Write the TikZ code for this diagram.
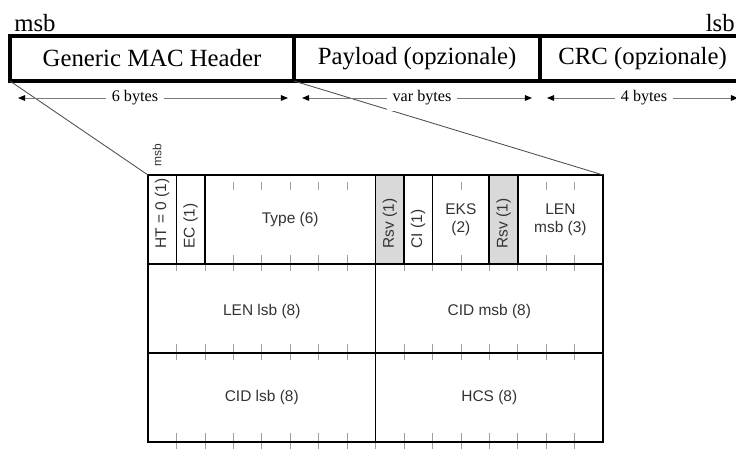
\documentclass[tikz,border=0pt]{standalone}
\usepackage{fontspec}
\setmainfont{Liberation Serif}
\setsansfont{Liberation Sans}
\usepackage{xcolor}
\usepackage{tikz}
\usetikzlibrary{positioning, arrows.meta}
\definecolor{frgray}{HTML}{7A7A7A}
\definecolor{frtext}{HTML}{333333}
\definecolor{frrsv}{HTML}{D9D9D9}
\definecolor{frtick}{HTML}{A0A0A0}

\begin{document}
\begin{tikzpicture}[
  x=0.025cm, y=-0.025cm,
  topfield/.style={
    rectangle, draw=black, line width=2.5pt, inner sep=0pt, outer sep=0pt,
    minimum height=1.125cm, font=\fontsize{17.6}{20}\selectfont
  },
  endlbl/.style={font=\fontsize{17.6}{20}\selectfont, inner sep=0pt},
  dimlbl/.style={font=\fontsize{11.5}{14}\selectfont, fill=white, inner sep=4pt},
  dimarr/.style={-{Triangle[length=5pt, width=4pt, color=black]}, color=frgray, line width=0.7pt},
  zoomline/.style={draw=black!70, line width=0.6pt},
  field/.style={draw=black, line width=1.3pt},
  bittick/.style={draw=frtick, line width=0.5pt},
  bitlbl/.style={font=\sffamily\fontsize{11}{13}\selectfont, text=frtext, align=center},
]
\useasboundingbox (0,0) rectangle (736,450);

% Trama MAC
\node[topfield, minimum width=7.1cm] (hdr) at (152,58.5) {Generic MAC Header};
\node[topfield, minimum width=6.15cm, right=0pt of hdr] (pay) {Payload (opzionale)};
\node[topfield, minimum width=5.125cm, right=0pt of pay] (crc) {CRC (opzionale)};
\node[endlbl, anchor=base west] (msbtop) at (14,31) {msb};
\node[endlbl, anchor=base east] (lsbtop) at (735,31) {lsb};

% Dettaglio dell'header
\begin{scope}[shift={(148,175)}, x=0.7109cm, y=-2.225cm]
  \coordinate (boxnw) at (0,0);
  \coordinate (boxne) at (16,0);
  % campi riservati
  \fill[frrsv] (8,0) rectangle (9,1) (12,0) rectangle (13,1);
  % tacche dei bit
  \foreach \b in {1,...,15} {
    \draw[bittick] (\b,0.08) -- (\b,0.17);
    \foreach \r in {1,2,3}
      \draw[bittick] (\b,\r-0.1) -- (\b,\r+0.08);
  }
  \draw[field] (0,0) rectangle (16,3);
  \draw[field] (0,1) -- (16,1) (0,2) -- (16,2) (8,1) -- (8,3);
  \foreach \b in {1,2,8,9,10,12,13}
    \draw[field] (\b,0) -- (\b,1);
  \node[bitlbl, rotate=90, anchor=west] (fht) at (0.5,0.88) {HT = 0 (1)};
  \node[bitlbl, rotate=90, anchor=west] (fec) at (1.5,0.88) {EC (1)};
  \node[bitlbl] (ftype) at (5,0.5) {Type (6)};
  \node[bitlbl, rotate=90, anchor=west] (frsva) at (8.5,0.88) {Rsv (1)};
  \node[bitlbl, rotate=90, anchor=west] (fci) at (9.5,0.88) {CI (1)};
  \node[bitlbl] (feks) at (11,0.5) {EKS\\(2)};
  \node[bitlbl, rotate=90, anchor=west] (frsvb) at (12.5,0.88) {Rsv (1)};
  \node[bitlbl] (flenm) at (14.5,0.5) {LEN\\msb (3)};
  \node[bitlbl] (flenl) at (4,1.53) {LEN lsb (8)};
  \node[bitlbl] (fcidm) at (12,1.53) {CID msb (8)};
  \node[bitlbl] (fcidl) at (4,2.5) {CID lsb (8)};
  \node[bitlbl] (fhcs) at (12,2.5) {HCS (8)};
\end{scope}
\node[font=\sffamily\fontsize{8.5}{10}\selectfont, text=frtext, rotate=90, anchor=west] (msbbit) at (157,171) {msb};

% Linee di ingrandimento
\draw[zoomline] (hdr.south west) -- (boxnw);
\draw[zoomline] (hdr.south east) -- (boxne);

% Lunghezze
\node[dimlbl] (d6) at (135,98) {6 bytes};
\node[dimlbl] (dvar) at (422,98) {var bytes};
\node[dimlbl] (d4) at (644,98) {4 bytes};
\coordinate (d6l) at (18,98);
\coordinate (d6r) at (288,98);
\coordinate (dvarl) at (302,98);
\coordinate (dvarr) at (532,98);
\coordinate (d4l) at (547,98);
\coordinate (d4r) at (738,98);
\foreach \l/\e in {d6/d6l, d6/d6r, dvar/dvarl, dvar/dvarr, d4/d4l, d4/d4r} {
  \draw[dimarr] (\l) -- (\e);
}
\end{tikzpicture}
\end{document}
